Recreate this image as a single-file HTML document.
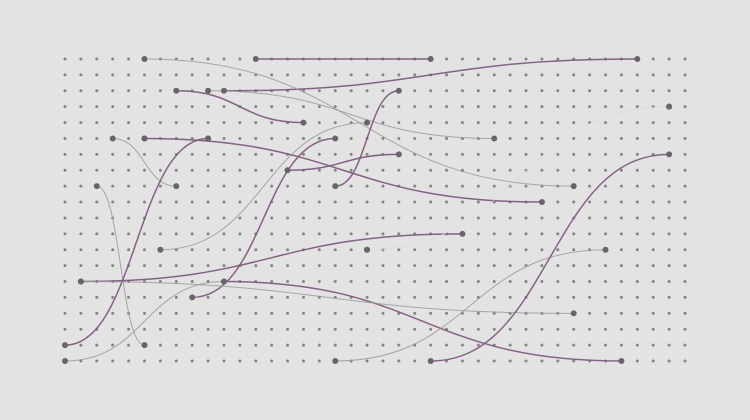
<!DOCTYPE html>
<html><head><meta charset="utf-8"><style>
html,body{margin:0;padding:0;background:#e3e3e3;}
svg{display:block;}
</style></head><body>
<svg id="chart" width="750" height="420" viewBox="0 0 750 420">
<rect width="750" height="420" fill="#e3e3e3"/>
<g id="grid"></g><g id="links"></g><g id="ends"></g>
</svg>
<script>
const gridCols = 40;
const gridRows = 20;
// link endpoints: [fromCol, fromRow, toCol, toRow]
const linkFrom = [[12,0],[10,2],[7,2],[9,2],[5,0],[5,5],[3,5],[2,8],[0,18],[1,14],[10,14],[8,15],[14,7],[17,8],[6,12],[0,19],[1,14],[17,19],[23,19],[19,12]];
const linkTo   = [[23,0],[36,0],[15,4],[27,5],[32,8],[30,9],[7,8],[5,18],[9,5],[25,11],[35,19],[17,5],[21,6],[21,2],[19,4],[10,14],[32,16],[34,12],[38,6],[38,3]];
const linkType = ['p','p','p','g','g','p','g','g','p','p','p','p','p','p','g','g','g','g','p','f'];
const extraDots = [[5,5],[9,5],[19,12],[38,3]];

const NS='http://www.w3.org/2000/svg';
const x0=65,y0=59,dx=(685-65)/39,dy=(361-59)/19;
function xs(c){return x0+c*dx;}
function ys(r){return y0+r*dy;}
const grid=document.getElementById('grid'),links=document.getElementById('links'),ends=document.getElementById('ends');
for(let r=0;r<gridRows;r++)for(let c=0;c<gridCols;c++){
  const d=document.createElementNS(NS,'circle');
  d.setAttribute('cx',xs(c));d.setAttribute('cy',ys(r));d.setAttribute('r',1.5);d.setAttribute('fill','#858585');
  
  
  grid.appendChild(d);
}
function endDot(c,r){
  const d=document.createElementNS(NS,'circle');
  d.setAttribute('cx',xs(c));d.setAttribute('cy',ys(r));d.setAttribute('r',3);d.setAttribute('fill','#666');
  
  
  ends.appendChild(d);
}
const col={p:['#7e5a80',1.5,0.95],g:['#9a9a9a',1,0.85],f:['#d8d8d8',1,0.7]};
for(let i=0;i<linkFrom.length;i++){
  const [c1,r1]=linkFrom[i],[c2,r2]=linkTo[i];
  const X1=xs(c1),Y1=ys(r1),X2=xs(c2),Y2=ys(r2),m=(X1+X2)/2;
  const p=document.createElementNS(NS,'path');
  p.setAttribute('d',`M${X1},${Y1} C${m},${Y1} ${m},${Y2} ${X2},${Y2}`);
  const s=col[linkType[i]];
  p.setAttribute('fill','none');p.setAttribute('stroke',s[0]);p.setAttribute('stroke-width',s[1]);p.setAttribute('opacity',s[2]);
  
  
  links.appendChild(p);
  endDot(c1,r1);endDot(c2,r2);
}
extraDots.forEach(e=>endDot(e[0],e[1]));
</script>
</body></html>
